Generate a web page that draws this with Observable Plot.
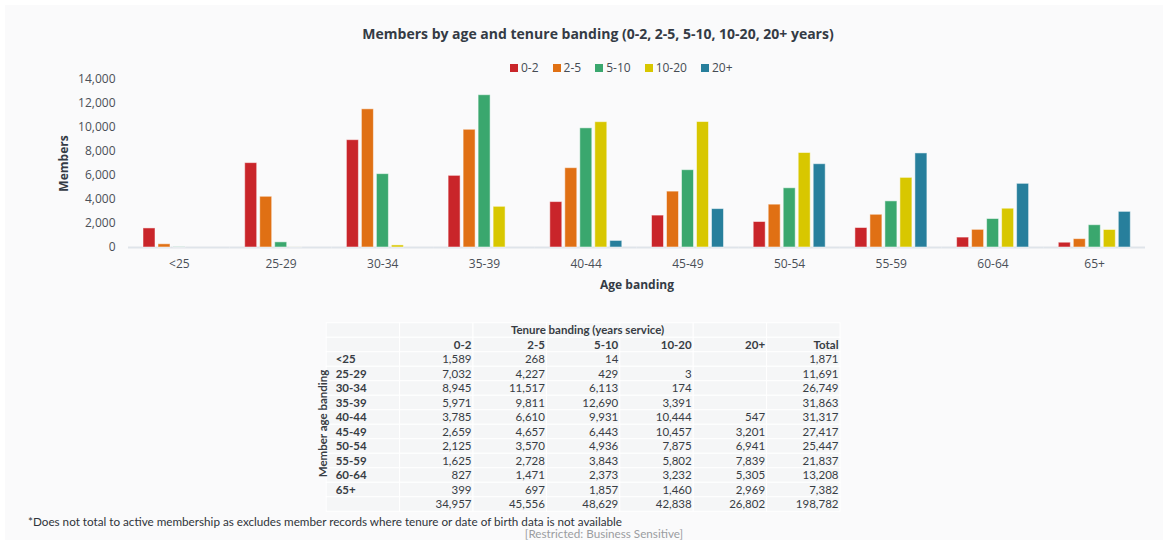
<!DOCTYPE html>
<html>
<head>
<meta charset="utf-8">
<script src="https://cdn.jsdelivr.net/npm/d3@7"></script>
<script src="https://cdn.jsdelivr.net/npm/@observablehq/plot@0.6"></script>
<style>
  html, body { margin: 0; padding: 0; background: #fff; }
  #page { position: relative; width: 1163px; height: 547px; overflow: hidden; font-family: "Open Sans", sans-serif; }
  #panel { position: absolute; left: 5px; top: 5px; width: 1158px; height: 535px; background: #fafafb; }
  #title { position: absolute; left: 0; width: 1196px; top: 24px; text-align: center; font-weight: bold; font-size: 14px; color: #343b45; white-space: nowrap; }
  #legend { position: absolute; left: 510px; top: 51px; }
  #chart { position: absolute; left: 0; top: 0; }
  #table { position: absolute; left: 300px; top: 300px; }
  #note { position: absolute; left: 28px; top: 515px; line-height: 12px; font-family: Lato, sans-serif; font-size: 11.7px; color: #2f343a; white-space: nowrap; }
  #restricted { position: absolute; left: 0; width: 1208px; top: 528px; line-height: 11px; text-align: center; font-family: Lato, sans-serif; font-size: 11.7px; color: #9a9da1; white-space: nowrap; }
  .tl-swatch { margin-right: 14px !important; }
  .tl-swatch > svg { margin-right: 3px !important; }
  #chart g[aria-label$="axis label"] text, #chart g[aria-label$="axis label"] { font-weight: bold; fill: #343b45; }
</style>
</head>
<body>
<div id="page">
  <div id="panel"></div>
  <div id="title">Members by age and tenure banding (0-2, 2-5, 5-10, 10-20, 20+ years)</div>
  <div id="legend"></div>
  <div id="chart"></div>
  <div id="table"></div>
  <div id="note">*Does not total to active membership as excludes member records where tenure or date of birth data is not available</div>
  <div id="restricted">[Restricted: Business Sensitive]</div>
</div>
<script>
// Age bands (rows) and tenure bands (series)
const ages = ["<25", "25-29", "30-34", "35-39", "40-44", "45-49", "50-54", "55-59", "60-64", "65+"];
const tenures = ["0-2", "2-5", "5-10", "10-20", "20+"];
const tenureColors = ["#c9252a", "#e07014", "#3aa76e", "#d8c700", "#277f9c"];

// Members per age band, one array per tenure band (null = no members)
const tenure0to2   = [1589, 7032, 8945, 5971, 3785, 2659, 2125, 1625, 827, 399];
const tenure2to5   = [268, 4227, 11517, 9811, 6610, 4657, 3570, 2728, 1471, 697];
const tenure5to10  = [14, 429, 6113, 12690, 9931, 6443, 4936, 3843, 2373, 1857];
const tenure10to20 = [null, 3, 174, 3391, 10444, 10457, 7875, 5802, 3232, 1460];
const tenure20plus = [null, null, null, null, 547, 3201, 6941, 7839, 5305, 2969];

const seriesByTenure = [tenure0to2, tenure2to5, tenure5to10, tenure10to20, tenure20plus];

// Long-format rows for the marks
const rows = [];
tenures.forEach((t, ti) => {
  ages.forEach((a, ai) => {
    const v = seriesByTenure[ti][ai];
    if (v != null) rows.push({age: a, tenure: t, value: v});
  });
});

const fmt = d3.format(",");

// Legend
document.getElementById("legend").append(Plot.legend({
  legend: "swatches",
  color: {domain: tenures, range: tenureColors},
  swatchSize: 8,
  className: "tl",
  style: {fontFamily: "Open Sans", fontSize: "12px", color: "#454b53"}
}));

// Grouped bar chart
const chart = Plot.plot({
  width: 1163,
  height: 300,
  marginLeft: 128,
  marginRight: 18,
  marginTop: 79,
  marginBottom: 53,
  style: {background: "transparent", fontFamily: "Open Sans", fontSize: "12px", color: "#4a4f57"},
  fx: {domain: ages, padding: 0, round: false, axis: "bottom", tickSize: 0, tickPadding: 12,
       label: "Age banding", labelAnchor: "center", labelOffset: 41},
  x: {domain: tenures, axis: null, paddingInner: 0.18, paddingOuter: 0.87},
  y: {domain: [0, 14000], ticks: 7, tickFormat: fmt, tickSize: 0, tickPadding: 13,
      label: "Members", labelAnchor: "center", labelOffset: 69, labelArrow: false},
  color: {domain: tenures, range: tenureColors},
  marks: [
    Plot.ruleY([0], {stroke: "#dfe4ea", strokeWidth: 2}),
    Plot.barY(rows, {fx: "age", x: "tenure", y: "value", fill: "tenure",
                     stroke: "white", strokeOpacity: 0.5, strokeWidth: 1})
  ]
});
document.getElementById("chart").append(chart);

// Summary table
const colKeys = ["label", ...tenures, "Total"];
const rowKeys = ["title", "head", ...ages, "total"];

const rowTotals = ages.map((a, ai) => d3.sum(seriesByTenure, s => s[ai]));
const colTotals = seriesByTenure.map(s => d3.sum(s));
const grandTotal = d3.sum(rowTotals);

const valueCells = rows.map(d => ({row: d.age, col: d.tenure, text: fmt(d.value)}));
ages.forEach((a, ai) => valueCells.push({row: a, col: "Total", text: fmt(rowTotals[ai])}));
tenures.forEach((t, ti) => valueCells.push({row: "total", col: t, text: fmt(colTotals[ti])}));
valueCells.push({row: "total", col: "Total", text: fmt(grandTotal)});

const grid = [];
rowKeys.forEach(r => colKeys.forEach(c => grid.push({row: r, col: c})));

const tableWidth = 560, tableLeft = 26.2, tableRight = 20;
const bw = (tableWidth - tableLeft - tableRight) / colKeys.length;

const table = Plot.plot({
  width: tableWidth,
  height: 230,
  marginLeft: tableLeft,
  marginRight: tableRight,
  marginTop: 22.75,
  marginBottom: 18.75,
  style: {background: "transparent", fontFamily: "Lato", fontSize: "11.5px", color: "#383d44"},
  x: {domain: colKeys, axis: null, padding: 0, round: false},
  y: {domain: rowKeys, axis: null, padding: 0, round: false},
  marks: [
    Plot.cell(grid, {x: "col", y: "row", fill: "#f5f6f7", stroke: "#ffffff", strokeWidth: 1}),
    Plot.text(["Tenure banding (years service)"], {x: () => "5-10", y: () => "title", dx: 4, fontWeight: "bold"}),
    Plot.text([...tenures, "Total"], {x: d => d, y: () => "head", textAnchor: "end", dx: bw / 2 - 2, fontWeight: "bold"}),
    Plot.text(ages, {x: () => "label", y: d => d, textAnchor: "start", dx: -bw / 2 + 9, fontWeight: "bold"}),
    Plot.text(valueCells, {x: "col", y: "row", text: "text", textAnchor: "end", dx: bw / 2 - 2}),
    Plot.text(["Member age banding"], {frameAnchor: "left", rotate: -90, textAnchor: "middle", dx: -3.5, dy: 6, fontWeight: "bold", fontSize: 11.5})
  ]
});
document.getElementById("table").append(table);
</script>
</body>
</html>
